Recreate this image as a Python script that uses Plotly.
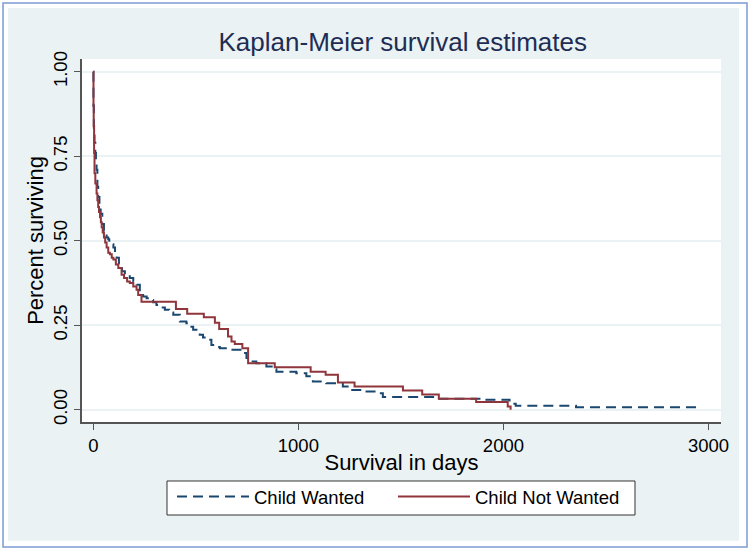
import plotly.graph_objects as go

# Kaplan-Meier step data (days, survival)
wanted_t = [0, 1, 3, 6, 10, 13, 16, 20, 24, 30, 36, 44, 52, 60, 65, 73, 78, 90, 98, 106,
            114, 125, 140, 154, 166, 178, 195, 211, 227, 243, 260, 276, 292, 308, 330, 349,
            370, 390, 422, 454, 470, 487, 503, 519, 535, 552, 576, 600, 617, 657, 730, 747,
            763, 795, 844, 870, 893, 990, 1039, 1071, 1136, 1217, 1250, 1315, 1396, 1412,
            1688, 1900, 2030, 2060, 2354, 2950]
wanted_s = [1.0, 0.90, 0.83, 0.79, 0.76, 0.74, 0.71, 0.66, 0.63, 0.605, 0.58, 0.55, 0.53,
            0.52, 0.51, 0.505, 0.50, 0.49, 0.48, 0.465, 0.45, 0.43, 0.41, 0.40, 0.395, 0.39,
            0.38, 0.37, 0.35, 0.335, 0.33, 0.325, 0.318, 0.31, 0.303, 0.296, 0.288, 0.281,
            0.261, 0.256, 0.246, 0.237, 0.229, 0.222, 0.214, 0.207, 0.192, 0.186, 0.182,
            0.178, 0.168, 0.153, 0.143, 0.138, 0.128, 0.12, 0.113, 0.108, 0.099, 0.084,
            0.079, 0.069, 0.059, 0.054, 0.049, 0.038, 0.033, 0.03, 0.018, 0.012, 0.008, 0.002]

notwanted_t = [0, 1, 2, 4, 6, 10, 16, 20, 24, 28, 33, 37, 41, 46, 52, 58, 65, 73, 81, 90,
               98, 110, 122, 138, 150, 165, 178, 195, 211, 219, 235, 403, 458, 539, 593, 614,
               657, 674, 690, 727, 755, 885, 1060, 1133, 1193, 1274, 1510, 1604, 1685, 1867,
               2021, 2035]
notwanted_s = [1.0, 0.90, 0.84, 0.76, 0.70, 0.67, 0.64, 0.62, 0.60, 0.585, 0.57, 0.555, 0.54,
               0.525, 0.51, 0.495, 0.48, 0.465, 0.46, 0.45, 0.445, 0.43, 0.42, 0.40, 0.39,
               0.38, 0.375, 0.365, 0.355, 0.34, 0.32, 0.298, 0.284, 0.274, 0.258, 0.239,
               0.217, 0.202, 0.195, 0.182, 0.138, 0.126, 0.113, 0.104, 0.081, 0.069, 0.057,
               0.045, 0.033, 0.023, 0.010, 0.0]

y_ticks = [0, 0.25, 0.5, 0.75, 1.0]
y_labels = ['0.00', '0.25', '0.50', '0.75', '1.00']
x_ticks = [0, 1000, 2000, 3000]

navy = '#1A476F'
maroon = '#90353B'
fill = '#EAF2F3'
font = 'Liberation Sans, Arial, sans-serif'

fig = go.Figure()
fig.add_trace(go.Scatter(x=wanted_t, y=wanted_s, mode='lines', name='Child Wanted',
                         line=dict(color=navy, width=2, dash='10px,6px', shape='hv'),
                         legend='legend'))
fig.add_trace(go.Scatter(x=notwanted_t, y=notwanted_s, mode='lines', name='Child Not Wanted',
                         line=dict(color=maroon, width=2, shape='hv'),
                         legend='legend2'))

# outer stata-like frame: light fill, white plot region, thin blue border, legend box
shapes = [
    dict(type='rect', xref='paper', yref='paper', x0=-0.1158, x1=1.0282, y0=-0.327, y1=1.1405,
         fillcolor=fill, line=dict(width=0), layer='below'),
    dict(type='rect', xref='paper', yref='paper', x0=0, x1=1, y0=0, y1=1,
         fillcolor='white', line=dict(width=0), layer='below'),
    dict(type='rect', xref='paper', yref='paper', x0=-0.1236, x1=1.0407, y0=-0.3444, y1=1.1543,
         fillcolor='rgba(0,0,0,0)', line=dict(color='#7B9BD4', width=1.5), layer='below'),
    dict(type='rect', xref='paper', yref='paper', x0=0.1330, x1=0.8654, y0=-0.2562, y1=-0.1625,
         fillcolor='white', line=dict(color='#333333', width=1), layer='below'),
]

leg = dict(orientation='h', xanchor='left', y=-0.154, yanchor='top',
           bgcolor='rgba(0,0,0,0)', borderwidth=0, font=dict(size=18.5), itemwidth=72)

fig.update_layout(
    width=750, height=551,
    margin=dict(l=82, r=29, t=59, b=129, autoexpand=False),
    paper_bgcolor='white', plot_bgcolor='white',
    font=dict(family=font, size=18.5, color='black'),
    shapes=shapes,
    title=dict(text='Kaplan-Meier survival estimates', x=0.537, xanchor='center',
               y=1 - 42 / 551, yanchor='middle', yref='container',
               font=dict(size=26, color='#1E2D53')),
    xaxis=dict(range=[-55, 3061], tickvals=x_ticks, ticks='outside', ticklen=6,
               tickcolor='#555555', showgrid=False, zeroline=False, automargin=False,
               showline=True, linecolor='#555555', linewidth=1.5,
               title=dict(text='Survival in days', standoff=0)),
    yaxis=dict(range=[-0.036, 1.038], tickvals=y_ticks, ticktext=y_labels, tickangle=-90,
               ticks='outside', ticklen=6, tickcolor='#555555', automargin=False,
               showgrid=True, gridcolor=fill, gridwidth=1.5, zeroline=False,
               showline=True, linecolor='#555555', linewidth=1.5,
               title=dict(text='Percent surviving', standoff=0)),
    legend=dict(leg, x=(172 - 82) / 639),
    legend2=dict(leg, x=(393 - 82) / 639),
    showlegend=True,
)

fig.write_html("out.html", config={'displayModeBar': False},
               post_script="document.body.style.margin='0px';")
